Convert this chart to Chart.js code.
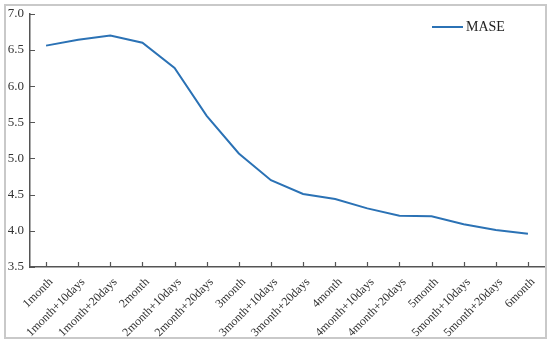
<!DOCTYPE html>
<html>
<head>
<meta charset="utf-8">
<script src="https://cdn.jsdelivr.net/npm/chart.js@4"></script>
<style>
  body { margin: 0; background: #fff; }
  #wrap { position: relative; width: 550px; height: 344px; }
  #frame { position: absolute; left: 4px; top: 4px; width: 539px; height: 331px; border: 2px solid #c9c9c9; }
  #legend { position: absolute; left: 432px; top: 19px; font: 14px "Liberation Serif", serif; color: #222; display: flex; align-items: center; }
  #legend span.ln { display: inline-block; width: 31px; height: 2px; background: #2b72b5; margin-right: 3px; }
</style>
</head>
<body>
<div id="wrap">
  <div id="frame"></div>
  <canvas id="grafico" width="550" height="344"></canvas>
  <div id="legend"><span class="ln"></span>MASE</div>
</div>
<script>
// categorias e valores
const categorias = ['1month', '1month+10days', '1month+20days', '2month', '2month+10days', '2month+20days',
    '3month', '3month+10days', '3month+20days', '4month', '4month+10days', '4month+20days',
    '5month', '5month+10days', '5month+20days', '6month'];
const mase = [6.56, 6.64, 6.70, 6.60, 6.25, 5.59, 5.07, 4.70, 4.51, 4.44, 4.31, 4.21, 4.20, 4.09, 4.01, 3.96];
const yTicks = [3.5, 4.0, 4.5, 5.0, 5.5, 6.0, 6.5, 7.0];

// ticks para dentro
const ticksDentro = {
    id: 'ticksDentro',
    afterDraw(chart) {
        const c = chart.ctx;
        const x = chart.scales.x, y = chart.scales.y;
        c.save();
        c.strokeStyle = '#555';
        c.lineWidth = 1.2;
        c.beginPath();
        x.ticks.forEach((t, i) => {
            const px = Math.round(x.getPixelForTick(i)) + 0.5;
            c.moveTo(px, y.bottom);
            c.lineTo(px, y.bottom - 5);
        });
        yTicks.forEach(v => {
            const py = Math.round(y.getPixelForValue(v)) + 0.5;
            c.moveTo(x.left, py);
            c.lineTo(x.left + 5, py);
        });
        c.stroke();
        c.restore();
    }
};

const ctx = document.getElementById('grafico');
new Chart(ctx, {
    type: 'line',
    data: {
        labels: categorias,
        datasets: [{
            label: 'MASE',
            data: mase,
            borderColor: '#2b72b5',
            backgroundColor: '#2b72b5',
            borderWidth: 2,
            pointRadius: 0,
            tension: 0
        }]
    },
    options: {
        responsive: false,
        animation: false,
        layout: { padding: { top: 11, right: 6, left: 0, bottom: 0 } },
        plugins: { legend: { display: false }, tooltip: { enabled: false } },
        scales: {
            x: {
                offset: true,
                grid: { display: false, drawTicks: false },
                border: { color: '#555', width: 1.5 },
                ticks: {
                    autoSkip: false, maxRotation: 45, minRotation: 45, padding: 8, labelOffset: 5,
                    color: '#333', font: { family: 'Liberation Serif', size: 12 }
                },
                afterFit(s) { s.height = 77; }
            },
            y: {
                min: 3.5, max: 7.0,
                grid: { display: false, drawTicks: false },
                border: { color: '#555', width: 1.5 },
                afterBuildTicks(s) { s.ticks = yTicks.map(v => ({ value: v })); },
                ticks: {
                    padding: 6, color: '#333', font: { family: 'Liberation Serif', size: 13 },
                    callback: v => v.toFixed(1)
                },
                afterFit(s) { s.width = 30; }
            }
        }
    },
    plugins: [ticksDentro]
});
</script>
</body>
</html>
